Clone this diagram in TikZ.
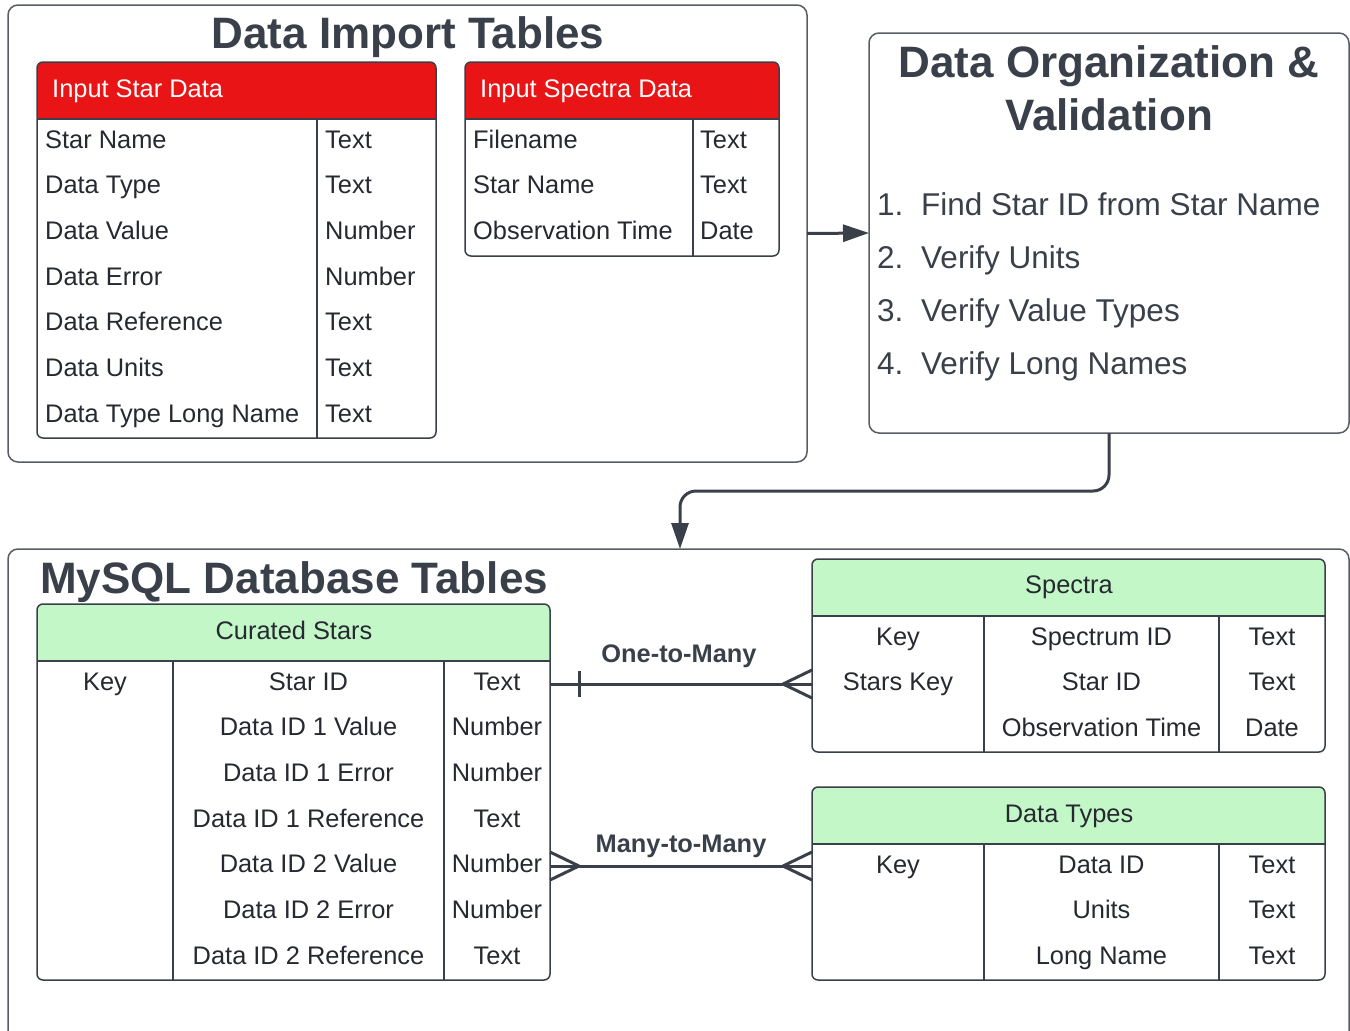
\documentclass[tikz,border=0pt]{standalone}
\usepackage{fontspec}
\setmainfont{Liberation Sans}
\usepackage{tikz}
\usetikzlibrary{calc,arrows.meta}
\definecolor{ink}{RGB}{58,64,73}
\definecolor{txt}{RGB}{38,41,47}
\definecolor{hdrred}{RGB}{232,20,22}
\definecolor{hdrgreen}{RGB}{195,247,200}
\newcommand{\cellfont}{\fontsize{25.4pt}{30pt}\selectfont}
\newcommand{\titlefont}{\fontsize{44pt}{53pt}\selectfont\bfseries}
\newcommand{\listfont}{\fontsize{31.5pt}{38pt}\selectfont}
\newcommand{\tikzTableNode}[6]{
  \node[minimum width=#5pt,minimum height=#6pt,anchor=north west,inner sep=0pt,outer sep=0pt] (#1) at (#3,#4) {};
  \fill[#2,rounded corners=6pt] (#1.north west) rectangle ($(#1.north east)+(0,57)$);
  \fill[#2] ($(#1.north west)+(0,20)$) rectangle ($(#1.north east)+(0,57)$);
  \draw[tblline,rounded corners=6pt] (#1.north west) rectangle (#1.south east);
  \draw[tblline] ($(#1.north west)+(0,57)$) -- ($(#1.north east)+(0,57)$);
}
\newcommand{\tikzCrowFoot}[2]{
  \draw[rel] ($(#1)+(#2,0)$) -- ($(#1)+(0,-14)$) ($(#1)+(#2,0)$) -- ($(#1)+(0,14)$);
}

\begin{document}
\begin{tikzpicture}[x=1pt, y=-1pt,
  tblline/.style={ink,line width=1.5pt},
  frame/.style={draw=ink!85,line width=1.5pt,rounded corners=10pt,anchor=north west,inner sep=0pt,outer sep=0pt},
  cell/.style={font=\cellfont,text=txt,inner sep=0pt,text height=18pt,text depth=0pt},
  head/.style={cell,text=white},
  bigtitle/.style={font=\titlefont,text=ink,inner sep=0pt,text height=31.5pt,text depth=0pt},
  item/.style={font=\listfont,text=ink,inner sep=0pt,text height=22.6pt,text depth=0pt,anchor=west},
  rellabel/.style={font=\cellfont\bfseries,text=ink,inner sep=0pt,text height=18pt,text depth=0pt},
  rel/.style={ink,line width=3pt},
  flow/.style={ink,line width=3pt,-{Triangle[length=26pt,width=17pt]}}]
  \useasboundingbox (0,0) rectangle (1350,1031);

  \node[frame,minimum width=799pt,minimum height=457pt] (import) at (8,5) {};
  \node[bigtitle] (importt) at (408,33) {Data Import Tables};

  \tikzTableNode{stardata}{hdrred}{37}{62}{399}{376}
  \node[head,anchor=west] (stardatah) at (52,88) {Input Star Data};
  \draw[tblline] (317,119) -- (317,438);
  \foreach \t [count=\i] in {Star Name,Data Type,Data Value,Data Error,Data Reference,Data Units,Data Type Long Name}
    \node[cell,anchor=west] (sdn\i) at (45,{139+45.67*(\i-1)}) {\t};
  \foreach \t [count=\i] in {Text,Text,Number,Number,Text,Text,Text}
    \node[cell,anchor=west] (sdt\i) at (325,{139+45.67*(\i-1)}) {\t};

  \tikzTableNode{specdata}{hdrred}{465}{62}{314}{194}
  \node[head,anchor=west] (specdatah) at (480,88) {Input Spectra Data};
  \draw[tblline] (693,119) -- (693,256);
  \foreach \t [count=\i] in {Filename,Star Name,Observation Time}
    \node[cell,anchor=west] (spn\i) at (473,{139+45.67*(\i-1)}) {\t};
  \foreach \t [count=\i] in {Text,Text,Date}
    \node[cell,anchor=west] (spt\i) at (700,{139+45.67*(\i-1)}) {\t};

  \node[frame,minimum width=480pt,minimum height=400pt] (org) at (869,33) {};
  \node[bigtitle] (orgt1) at (1109,62) {Data Organization \&};
  \node[bigtitle] (orgt2) at (1109,115) {Validation};
  \foreach \t [count=\i] in {Find Star ID from Star Name,Verify Units,Verify Value Types,Verify Long Names}{
    \node[item] (orgn\i) at (877,{204+53*(\i-1)}) {\i.};
    \node[item] (orgi\i) at (921,{204+53*(\i-1)}) {\t};
  }

  \draw[flow] (import.east) -- (org.west);

  \node[frame,minimum width=1341pt,minimum height=520pt] (mysql) at (8,549) {};
  \node[bigtitle,anchor=west] (mysqlt) at (40,578) {MySQL Database Tables};
  \coordinate (bend) at (680,491);
  \coordinate (drop) at (680,549);
  \draw[flow,rounded corners=16pt] (org.south) |- (bend) -- (drop);

  \tikzTableNode{curated}{hdrgreen}{37}{604}{513}{376}
  \node[cell] (curatedh) at (294,630) {Curated Stars};
  \draw[tblline] (173,661) -- (173,980) (444,661) -- (444,980);
  \node[cell] (cuk1) at (105,681) {Key};
  \foreach \t [count=\i] in {Star ID,Data ID 1 Value,Data ID 1 Error,Data ID 1 Reference,Data ID 2 Value,Data ID 2 Error,Data ID 2 Reference}
    \node[cell] (cun\i) at (308.5,{681+45.67*(\i-1)}) {\t};
  \foreach \t [count=\i] in {Text,Number,Number,Text,Number,Number,Text}
    \node[cell] (cut\i) at (497,{681+45.67*(\i-1)}) {\t};

  \tikzTableNode{spectra}{hdrgreen}{812}{559}{513}{193}
  \node[cell] (spectrah) at (1069,584) {Spectra};
  \draw[tblline] (984,616) -- (984,752) (1219,616) -- (1219,752);
  \node[cell] (sk1) at (898,636) {Key};
  \node[cell] (sk2) at (898,681) {Stars Key};
  \foreach \t [count=\i] in {Spectrum ID,Star ID,Observation Time}
    \node[cell] (sn\i) at (1101.5,{636+45.67*(\i-1)}) {\t};
  \foreach \t [count=\i] in {Text,Text,Date}
    \node[cell] (st\i) at (1272,{636+45.67*(\i-1)}) {\t};

  \tikzTableNode{dtypes}{hdrgreen}{812}{787}{513}{193}
  \node[cell] (dtypesh) at (1069,813) {Data Types};
  \draw[tblline] (984,844) -- (984,980) (1219,844) -- (1219,980);
  \node[cell] (dk1) at (898,864) {Key};
  \foreach \t [count=\i] in {Data ID,Units,Long Name}
    \node[cell] (dn\i) at (1101.5,{864+45.67*(\i-1)}) {\t};
  \foreach \t [count=\i] in {Text,Text,Text}
    \node[cell] (dt\i) at (1272,{864+45.67*(\i-1)}) {\t};

  \coordinate (otma) at ($(curated.east |- sk2)+(0,3)$);
  \coordinate (otmb) at ($(spectra.west |- sk2)+(0,3)$);
  \draw[rel] (otma) -- (otmb);
  \draw[rel] ($(otma)+(29,-13)$) -- ($(otma)+(29,13)$);
  \tikzCrowFoot{otmb}{-29}
  \node[rellabel] (otm) at (679,653) {One-to-Many};

  \coordinate (mtma) at ($(curated.east |- dk1)+(0,2)$);
  \coordinate (mtmb) at ($(dtypes.west |- dk1)+(0,2)$);
  \draw[rel] (mtma) -- (mtmb);
  \tikzCrowFoot{mtma}{29}
  \tikzCrowFoot{mtmb}{-29}
  \node[rellabel] (mtm) at (681,843) {Many-to-Many};
\end{tikzpicture}
\end{document}
